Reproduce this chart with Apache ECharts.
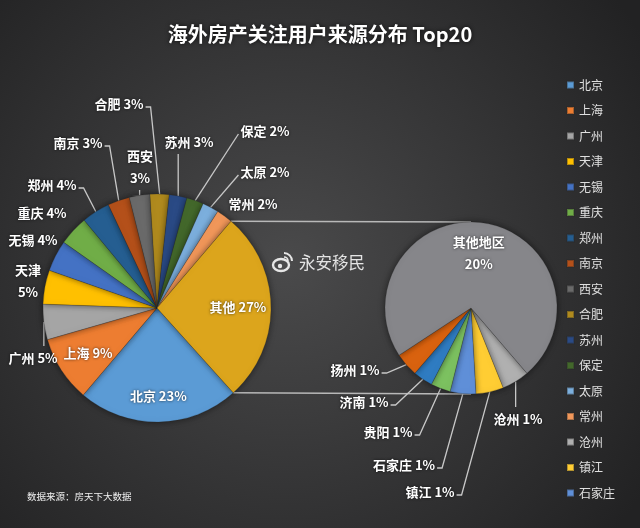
<!DOCTYPE html>
<html><head><meta charset="utf-8">
<script src="https://cdn.jsdelivr.net/npm/echarts@6/dist/echarts.min.js"></script>
<style>html,body{margin:0;padding:0;background:#333}#c{width:640px;height:528px}</style>
</head><body><div id="c"></div>
<script>
// ---- data ----
const mainNames = ['北京','上海','广州','天津','无锡','重庆','郑州','南京','西安','合肥','苏州','保定','太原','常州','其他'];
const mainValues = [22.8, 9.3, 5.0, 4.8, 4.4, 4.2, 4.0, 3.1, 2.9, 2.7, 2.5, 2.4, 2.3, 2.3, 27.0];
const subNames = ['沧州','镇江','石家庄','贵阳','济南','扬州','其他地区'];
const subValues = [1.4, 1.4, 1.3, 1.0, 1.0, 1.2, 19.7];
const legendNames = ['北京','上海','广州','天津','无锡','重庆','郑州','南京','西安','合肥','苏州','保定','太原','常州','沧州','镇江','石家庄'];

// ---- styles / layout ----
const FONT = '"Noto Sans CJK SC", "Noto Sans", sans-serif';
const mainColors = ['#5b9bd5','#ed7d31','#a5a5a5','#ffc000','#4472c4','#70ad47','#255e91','#b4501a','#6a6a6a','#b08a1e','#2a4a85','#43682b','#7cafdd','#f1975a','#dca51c'];
const subColors = ['#b0b0b0','#ffcd33','#5f8fd8','#7cc160','#2f7cc2','#d9620f','#86868a'];
const M = {cx:157, cy:308, r:114, start:-48};
const S = {cx:471, cy:308, r:86, start:-49.4};
const insideK = {'北京':0.77,'上海':0.72,'其他':0.71,'其他地区':0.64};
const twoLine = {'天津':1,'西安':1,'其他地区':1};
const labelPos = {
  '广州':[33,358],'天津':[28,281],'无锡':[33,240],'重庆':[42,213],'郑州':[52,185],
  '南京':[78,143],'西安':[140,167],'合肥':[119,104],'苏州':[189,142],'保定':[265,131],
  '太原':[265,172],'常州':[253,204],
  '扬州':[355,370],'济南':[364,402],'贵阳':[388,432],'石家庄':[404,465],'镇江':[430,492],'沧州':[518,419]
};
// which side of the label its leader line attaches to (none = no line)
const attach = {'广州':'t','郑州':'r','南京':'r','西安':'b','合肥':'r','苏州':'b','保定':'l','太原':'l',
  '扬州':'r','济南':'r','贵阳':'r','石家庄':'r','镇江':'r','沧州':'t'};

function midAngle(values, i, start){
  const tot = values.reduce((a,b)=>a+b,0);
  let before = 0; for (let j=0;j<i;j++) before += values[j];
  return (start - 360*(before + values[i]/2)/tot) * Math.PI/180;
}
function makeLayout(names, values, P){
  return function(params){
    const name = names[params.dataIndex];
    const a = midAngle(values, params.dataIndex, P.start);
    if (insideK[name]) {
      const k = insideK[name]*P.r;
      return {x: P.cx + k*Math.cos(a), y: P.cy - k*Math.sin(a), align:'center', verticalAlign:'middle'};
    }
    const p = labelPos[name];
    const w = params.labelRect.width, h = params.labelRect.height;
    const res = {x:p[0], y:p[1], align:'center', verticalAlign:'middle'};
    const edge = [P.cx + P.r*Math.cos(a), P.cy - P.r*Math.sin(a)];
    const side = attach[name];
    if (side === 'r') {
      const rx = p[0] + w/2;
      res.labelLinePoints = [edge, [rx+7, p[1]+3], [rx+2, p[1]+3]];
    } else if (side === 'l') {
      const lx = p[0] - w/2;
      res.labelLinePoints = [edge, [lx-2, p[1]+3], [lx-2, p[1]+3]];
    } else if (side === 't') {
      res.labelLinePoints = [edge, [edge[0], p[1]-h/2-1], [edge[0], p[1]-h/2-1]];
    } else if (side === 'b') {
      res.labelLinePoints = [edge, [edge[0], p[1]+h/2+1], [edge[0], p[1]+h/2+1]];
    }
    return res;
  };
}
function fmt(p){
  const v = Math.round(p.value) + '%';
  return p.name + (twoLine[p.name] ? '\n' : ' ') + v;
}
function buildData(names, values, colors){
  return names.map((n,i)=>({
    name:n, value:values[i], itemStyle:{color:colors[i]},
    label: insideK[n] ? {position:'inside'} : {position:'outside'},
    labelLine: {show: !!attach[n]}
  }));
}
const labelStyle = {show:true, color:'#ffffff', fontSize:13, fontWeight:'bold', fontFamily:FONT,
  formatter:fmt, lineHeight:22, textShadowColor:'rgba(0,0,0,0.7)', textShadowBlur:3};
const lineStyle = {show:true, length:8, length2:8, lineStyle:{color:'#c8c8c8', width:1.3}};

// connector lines between pies
const totM = mainValues.reduce((a,b)=>a+b,0);
const otherStart = (M.start - 360*(totM - mainValues[mainValues.length-1])/totM) * Math.PI/180;
const otherEnd = M.start * Math.PI/180;
const p1 = [M.cx + M.r*Math.cos(otherStart), M.cy - M.r*Math.sin(otherStart)];
const p2 = [M.cx + M.r*Math.cos(otherEnd), M.cy - M.r*Math.sin(otherEnd)];

const chart = echarts.init(document.getElementById('c'));
chart.setOption({
  animation:false,
  backgroundColor:{type:'radial', x:0.45, y:0.5, r:0.8, colorStops:[{offset:0,color:'#4a4a4b'},{offset:1,color:'#222223'}]},
  title:{text:'海外房产关注用户来源分布 Top20', left:'center', top:19,
    textStyle:{color:'#ffffff', fontSize:20, fontWeight:'bold', fontFamily:FONT, textShadowColor:'rgba(0,0,0,0.8)', textShadowBlur:4}},
  legend:{data:legendNames, orient:'vertical', left:561, top:73, itemWidth:7, itemHeight:7, icon:'rect',
    itemGap:11.5, textStyle:{color:'#e0e0e0', fontSize:12, fontFamily:FONT, lineHeight:14}, selectedMode:false},
  graphic:[
    {type:'line', shape:{x1:p1[0], y1:p1[1], x2:S.cx, y2:S.cy - S.r}, style:{stroke:'#b8b8b8', lineWidth:1.5}, z:0},
    {type:'line', shape:{x1:p2[0], y1:p2[1], x2:S.cx, y2:S.cy + S.r}, style:{stroke:'#b8b8b8', lineWidth:1.5}, z:0},
    {type:'ellipse', shape:{cx:281, cy:265, rx:8, ry:6}, style:{fill:'none', stroke:'#e6e6e6', lineWidth:2.4}, z:10},
    {type:'circle', shape:{cx:280, cy:266, r:2.2}, style:{fill:'#e6e6e6'}, z:10},
    {type:'arc', shape:{cx:284, cy:261, r:8, startAngle:-Math.PI/2, endAngle:0}, style:{fill:'none', stroke:'#e6e6e6', lineWidth:2}, z:10},
    {type:'arc', shape:{cx:284, cy:261, r:4, startAngle:-Math.PI/2, endAngle:0}, style:{fill:'none', stroke:'#e6e6e6', lineWidth:1.6}, z:10},
    {type:'text', left:299, top:254, style:{text:'永安移民', fill:'#e4e4e4', font:'16.5px ' + FONT}, z:10},
    {type:'text', left:27, top:492, style:{text:'数据来源：房天下大数据', fill:'#f0f0f0', font:'9.5px ' + FONT}, z:10}
  ],
  series:[
    {type:'pie', center:[M.cx, M.cy], radius:M.r, startAngle:M.start, clockwise:true,
      avoidLabelOverlap:false, data:buildData(mainNames, mainValues, mainColors),
      label:labelStyle, labelLine:lineStyle, labelLayout:makeLayout(mainNames, mainValues, M),
      itemStyle:{borderColor:'rgba(40,40,40,0.35)', borderWidth:0.6, shadowColor:'rgba(0,0,0,0.5)', shadowBlur:6},
      emphasis:{disabled:true}},
    {type:'pie', center:[S.cx, S.cy], radius:S.r, startAngle:S.start, clockwise:true,
      avoidLabelOverlap:false, data:buildData(subNames, subValues, subColors),
      label:labelStyle, labelLine:lineStyle, labelLayout:makeLayout(subNames, subValues, S),
      itemStyle:{borderColor:'rgba(40,40,40,0.35)', borderWidth:0.6, shadowColor:'rgba(0,0,0,0.5)', shadowBlur:6},
      emphasis:{disabled:true}}
  ]
});
</script></body></html>
